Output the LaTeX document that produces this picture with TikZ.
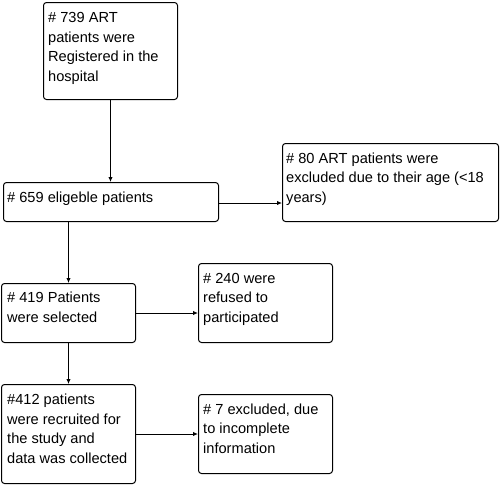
\documentclass[tikz,border=0pt]{standalone}
\usepackage{fontspec}
\setmainfont{Liberation Sans}
\usetikzlibrary{arrows.meta}
\begin{document}
\begin{tikzpicture}[x=1pt,y=-1pt,
  box/.style={draw=black,line width=1pt,rounded corners=3pt,inner sep=0pt,anchor=north west},
  txt/.style={anchor=base west,inner sep=0pt,align=left,font=\fontsize{14.6}{19.4}\selectfont},
  conn/.style={draw=black,line width=1pt,-{Latex[length=5pt,width=4.5pt]}}]
\useasboundingbox (0,0) rectangle (500,485);
% boxes
\node[box,minimum width=134pt,minimum height=97pt] (b1) at (43,2) {};
\node[box,minimum width=215pt,minimum height=39pt] (b2) at (3,182) {};
\node[box,minimum width=216pt,minimum height=78pt] (b3) at (282,143) {};
\node[box,minimum width=134pt,minimum height=59pt] (b4) at (1,283) {};
\node[box,minimum width=134pt,minimum height=79pt] (b5) at (198,263) {};
\node[box,minimum width=134pt,minimum height=99pt] (b6) at (1,384) {};
\node[box,minimum width=134pt,minimum height=79pt] (b7) at (198,394) {};
% texts (anchored at the baseline of their last line)
\node[txt] (t1) at (48,81) {\# 739 ART\\patients were\\Registered in the\\hospital};
\node[txt] (t2) at (7,202) {\# 659 eligeble patients};
\node[txt] (t3) at (286,202) {\# 80 ART patients were\\excluded due to their age (<18\\years)};
\node[txt] (t4) at (7,322) {\# 419 Patients\\were selected};
\node[txt] (t5) at (203,322) {\# 240 were\\refused to\\participated};
\node[txt] (t6) at (7,463) {\#412 patients\\were recruited for\\the study and\\data was collected};
\node[txt] (t7) at (203,453) {\# 7 excluded, due\\to incomplete\\information};
% connectors
\draw[conn] (b1.south) -- (b1.south |- b2.north);
\draw[conn] ([yshift=-1pt]b2.east) -- ([yshift=-1pt]b2.east -| b3.west);
\draw[conn] (b4.north |- b2.south) -- (b4.north);
\draw[conn] (b4.east) -- (b4.east -| b5.west);
\draw[conn] (b4.south) -- (b6.north);
\draw[conn] (b6.east) -- (b6.east -| b7.west);
\end{tikzpicture}
\end{document}
